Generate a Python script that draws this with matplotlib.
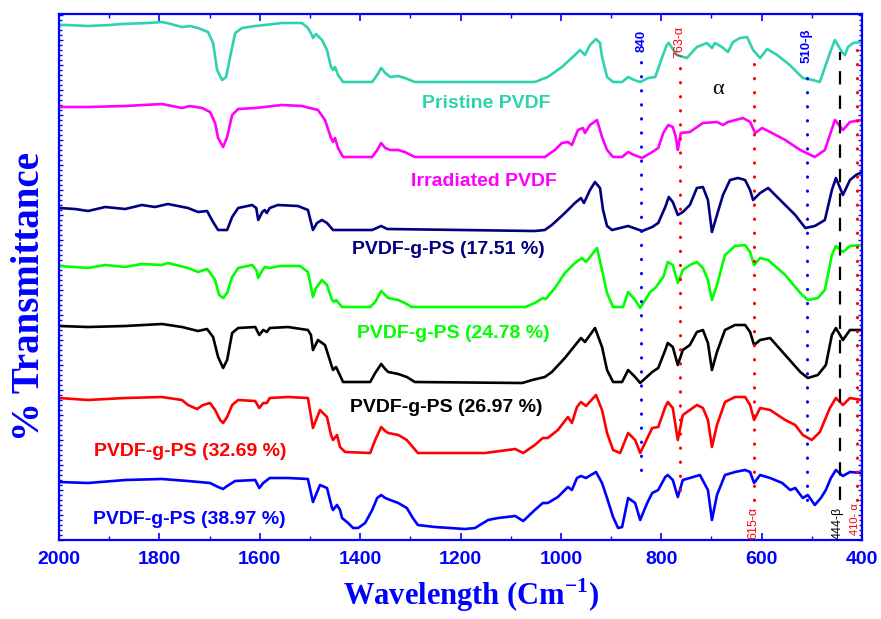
import matplotlib
matplotlib.use('Agg')
import matplotlib.pyplot as plt
from matplotlib.ticker import MultipleLocator

plt.rcParams['mathtext.fontset'] = 'custom'
plt.rcParams['mathtext.rm'] = 'Liberation Serif'
plt.rcParams['mathtext.bf'] = 'Liberation Serif:bold'

# FTIR spectra, stacked (transmittance in arbitrary offset units)
pristine_wn = [2000, 1984, 1942, 1900, 1874, 1822, 1795, 1785, 1755, 1739, 1723, 1703, 1693, 1685, 1675, 1667, 1659, 1649, 1635, 1609, 1590, 1556, 1516, 1504, 1496, 1494, 1488, 1476, 1466, 1458, 1454, 1450, 1444, 1434, 1376, 1366, 1358, 1350, 1340, 1324, 1311, 1291, 1052, 1026, 998, 972, 962, 952, 942, 930, 922, 918, 908, 896, 878, 866, 854, 842, 826, 812, 798, 789, 785, 769, 749, 729, 709, 699, 693, 679, 667, 657, 643, 629, 617, 603, 589, 569, 544, 518, 498, 484, 464, 454, 440, 434, 428, 418, 400]
pristine_t = [515, 515, 514, 515, 516, 517, 518, 517, 513, 514, 512, 508, 497, 470, 460, 463, 483, 507, 512, 514, 515, 517, 517, 512, 505, 502, 506, 500, 490, 473, 470, 473, 465, 458, 458, 465, 472, 467, 463, 464, 462, 458, 458, 463, 473, 485, 490, 485, 495, 501, 497, 483, 463, 458, 458, 463, 460, 458, 462, 463, 483, 495, 497, 485, 482, 493, 497, 492, 497, 493, 488, 498, 502, 503, 490, 482, 491, 485, 475, 462, 460, 458, 487, 500, 488, 485, 493, 497, 498]

irradiated_wn = [2000, 1942, 1868, 1795, 1755, 1739, 1715, 1699, 1689, 1683, 1673, 1665, 1655, 1643, 1609, 1556, 1516, 1484, 1470, 1458, 1454, 1450, 1444, 1434, 1376, 1366, 1358, 1350, 1340, 1324, 1311, 1291, 1032, 1012, 998, 986, 978, 966, 956, 952, 942, 928, 918, 908, 896, 878, 866, 854, 838, 818, 806, 796, 786, 777, 771, 767, 761, 743, 717, 689, 677, 667, 637, 623, 613, 599, 583, 553, 523, 494, 474, 454, 438, 424, 400]
irradiated_t = [433, 433, 434, 436, 432, 434, 432, 428, 417, 402, 393, 403, 425, 431, 432, 435, 434, 430, 420, 402, 398, 402, 392, 383, 383, 390, 397, 392, 390, 390, 388, 383, 383, 390, 397, 398, 395, 410, 412, 407, 415, 420, 403, 390, 383, 383, 388, 385, 382, 388, 392, 407, 415, 413, 403, 390, 407, 408, 417, 418, 415, 418, 422, 418, 407, 412, 408, 400, 390, 383, 390, 420, 410, 418, 420]

ps1751_wn = [2000, 1968, 1942, 1908, 1868, 1835, 1809, 1783, 1743, 1723, 1705, 1693, 1683, 1665, 1655, 1643, 1615, 1607, 1603, 1595, 1590, 1586, 1580, 1564, 1524, 1504, 1494, 1486, 1476, 1466, 1454, 1376, 1358, 1346, 1052, 1032, 1018, 992, 972, 960, 954, 942, 932, 922, 916, 908, 898, 866, 838, 818, 806, 792, 785, 777, 767, 757, 743, 729, 717, 707, 699, 689, 677, 663, 647, 633, 623, 617, 603, 587, 563, 533, 513, 494, 474, 460, 452, 438, 424, 412, 400]
ps1751_t = [332, 331, 329, 333, 331, 335, 333, 336, 332, 328, 329, 318, 310, 310, 323, 332, 335, 332, 320, 328, 330, 327, 332, 335, 334, 330, 310, 317, 320, 317, 310, 310, 314, 311, 309, 310, 315, 327, 337, 342, 337, 350, 358, 352, 330, 314, 310, 314, 309, 313, 317, 333, 343, 338, 325, 328, 335, 352, 353, 340, 308, 325, 345, 360, 362, 360, 350, 340, 347, 352, 340, 325, 312, 314, 320, 350, 362, 345, 360, 365, 368]

ps2478_wn = [2000, 1968, 1942, 1908, 1868, 1835, 1795, 1783, 1743, 1723, 1705, 1700, 1689, 1681, 1673, 1665, 1655, 1643, 1615, 1607, 1603, 1597, 1590, 1580, 1560, 1520, 1504, 1494, 1488, 1476, 1466, 1456, 1452, 1448, 1436, 1380, 1370, 1358, 1350, 1344, 1324, 1311, 1297, 1071, 1052, 1036, 1030, 1012, 992, 972, 958, 950, 928, 918, 908, 896, 876, 866, 852, 842, 822, 812, 796, 787, 777, 767, 757, 743, 729, 717, 707, 699, 689, 673, 653, 633, 623, 615, 603, 587, 553, 523, 508, 488, 474, 460, 452, 438, 424, 400]
ps2478_t = [274, 273, 272, 275, 273, 276, 275, 277, 272, 268, 271, 268, 260, 245, 242, 247, 263, 272, 275, 270, 262, 268, 273, 272, 274, 274, 268, 243, 252, 260, 255, 240, 238, 240, 233, 233, 238, 249, 245, 242, 240, 237, 233, 233, 237, 242, 241, 252, 267, 277, 282, 278, 292, 270, 247, 233, 233, 248, 240, 232, 248, 252, 263, 278, 275, 257, 270, 275, 278, 272, 260, 240, 255, 285, 294, 295, 288, 275, 282, 280, 265, 247, 240, 242, 250, 285, 294, 288, 294, 295]

ps2697_wn = [2000, 1942, 1868, 1795, 1755, 1723, 1705, 1693, 1683, 1673, 1665, 1655, 1643, 1609, 1601, 1593, 1586, 1580, 1544, 1504, 1498, 1494, 1484, 1470, 1456, 1454, 1448, 1434, 1380, 1370, 1358, 1350, 1344, 1324, 1307, 1291, 1077, 1057, 1032, 1018, 992, 968, 960, 952, 932, 918, 908, 896, 878, 866, 852, 842, 818, 806, 792, 787, 777, 767, 757, 743, 729, 717, 707, 699, 689, 673, 653, 633, 623, 615, 603, 583, 553, 523, 508, 488, 472, 460, 452, 438, 424, 400]
ps2697_t = [214, 213, 214, 216, 213, 209, 211, 203, 183, 172, 180, 207, 212, 213, 205, 210, 208, 212, 213, 210, 205, 190, 200, 195, 173, 170, 173, 158, 158, 167, 176, 171, 168, 166, 163, 158, 157, 160, 163, 168, 182, 197, 202, 198, 212, 193, 170, 158, 158, 170, 163, 157, 168, 172, 190, 197, 193, 175, 190, 195, 208, 210, 197, 170, 188, 210, 215, 215, 208, 195, 200, 202, 185, 168, 162, 165, 175, 205, 212, 200, 210, 210]

ps3269_wn = [2000, 1942, 1868, 1795, 1755, 1743, 1725, 1713, 1699, 1689, 1679, 1673, 1665, 1655, 1643, 1609, 1601, 1593, 1586, 1580, 1544, 1504, 1494, 1480, 1466, 1458, 1454, 1446, 1440, 1430, 1380, 1370, 1358, 1350, 1344, 1324, 1307, 1285, 1151, 1091, 1075, 1052, 1036, 1026, 1006, 986, 978, 968, 960, 950, 930, 918, 908, 896, 882, 866, 852, 842, 818, 806, 792, 787, 777, 767, 757, 743, 729, 717, 707, 699, 689, 673, 653, 633, 623, 615, 603, 583, 553, 533, 518, 500, 484, 464, 452, 438, 424, 400]
ps3269_t = [142, 140, 142, 143, 140, 135, 131, 135, 137, 130, 120, 117, 123, 135, 140, 139, 132, 137, 137, 142, 143, 142, 112, 130, 123, 105, 100, 105, 93, 88, 87, 100, 113, 109, 107, 105, 100, 87, 87, 91, 87, 95, 102, 102, 110, 123, 117, 133, 138, 134, 145, 130, 107, 90, 87, 107, 100, 87, 112, 113, 133, 138, 132, 100, 125, 130, 135, 132, 120, 93, 115, 138, 143, 143, 135, 120, 132, 130, 120, 115, 105, 100, 108, 132, 142, 135, 142, 140]

ps3897_wn = [2000, 1942, 1868, 1795, 1743, 1699, 1683, 1673, 1665, 1649, 1609, 1601, 1593, 1580, 1544, 1504, 1494, 1480, 1466, 1456, 1454, 1446, 1440, 1436, 1424, 1414, 1404, 1390, 1376, 1366, 1358, 1350, 1340, 1324, 1307, 1295, 1285, 1251, 1191, 1171, 1145, 1125, 1091, 1075, 1052, 1036, 1026, 1006, 986, 978, 968, 960, 950, 930, 918, 908, 896, 886, 878, 866, 852, 842, 828, 818, 806, 792, 787, 777, 767, 757, 743, 723, 707, 699, 689, 673, 653, 633, 623, 615, 603, 583, 559, 543, 533, 518, 508, 494, 482, 472, 462, 452, 438, 424, 400]
ps3897_t = [58, 57, 60, 61, 59, 57, 53, 51, 54, 59, 60, 52, 57, 62, 62, 61, 38, 55, 52, 32, 30, 35, 30, 22, 17, 12, 12, 17, 30, 42, 45, 42, 40, 37, 32, 22, 15, 13, 11, 12, 20, 22, 24, 19, 30, 37, 37, 43, 53, 50, 62, 64, 62, 68, 57, 42, 23, 12, 13, 42, 37, 20, 37, 47, 50, 63, 65, 60, 43, 60, 62, 65, 50, 20, 45, 65, 68, 70, 68, 57, 65, 62, 57, 50, 52, 42, 45, 35, 42, 50, 62, 70, 64, 68, 67]

spectra = [
    (pristine_wn, pristine_t, '#2ED3AE', 'Pristine PVDF', 1149, 437),
    (irradiated_wn, irradiated_t, '#FF00FF', 'Irradiated PVDF', 1153, 358),
    (ps1751_wn, ps1751_t, '#000080', 'PVDF-g-PS (17.51 %)', 1225, 290),
    (ps2478_wn, ps2478_t, '#00FF00', 'PVDF-g-PS (24.78 %)', 1215, 206),
    (ps2697_wn, ps2697_t, '#000000', 'PVDF-g-PS (26.97 %)', 1229, 133),
    (ps3269_wn, ps3269_t, '#FF0000', 'PVDF-g-PS (32.69 %)', 1739, 88),
    (ps3897_wn, ps3897_t, '#0000FF', 'PVDF-g-PS (38.97 %)', 1741, 21),
]

# marker lines
peak_pos = [840, 763, 615, 510, 444, 410]
peak_lbl = ['840', '763-\u03b1', '615-\u03b1', '510-\u03b2', '444-\u03b2', '410- \u03b1']
peak_col = ['#0000FF', '#FF0000', '#FF0000', '#0000FF', '#000000', '#FF0000']
peak_top = [480, 482, 478, 472, 488, 500]
peak_bot = [70, 50, 40, 40, 40, 40]

fig = plt.figure(figsize=(8.81, 6.19), dpi=100)
ax = fig.add_axes([59/881, 79/619, 803/881, 526/619])

for wn, t, c, name, lx, ly in spectra:
    ax.plot(wn, t, color=c, lw=1.9, solid_joinstyle='round')
    ax.text(lx, ly, name, color=c, fontsize=14, fontweight='bold',
            family='Liberation Sans', ha='center', va='center')

for i, p in enumerate(peak_pos):
    if p == 444:
        ax.plot([p, p], [peak_bot[i], peak_top[i]], color=peak_col[i], lw=1.6, ls=(0, (6, 5)))
    else:
        ax.plot([p, p], [peak_bot[i], peak_top[i]], color=peak_col[i], lw=2.2, ls=(0, (0.1, 4.5)),
                dash_capstyle='round')

# peak labels
ax.text(840, 488, peak_lbl[0], rotation=90, color='#0000FF', fontsize=9.5, fontweight='bold',
        family='Liberation Sans', ha='center', va='bottom')
ax.text(763, 482, peak_lbl[1], rotation=90, color='#FF0000', fontsize=9,
        family='Liberation Sans', ha='center', va='bottom')
ax.text(510, 477, peak_lbl[3], rotation=90, color='#0000FF', fontsize=9.5, fontweight='bold',
        family='Liberation Sans', ha='center', va='bottom')
ax.text(617, 1, peak_lbl[2], rotation=90, color='#FF0000', fontsize=9,
        family='Liberation Sans', ha='center', va='bottom')
ax.text(448, 1, peak_lbl[4], rotation=90, color='#000000', fontsize=9,
        family='Liberation Sans', ha='center', va='bottom')
ax.text(414, 5, peak_lbl[5], rotation=90, color='#FF0000', fontsize=8,
        family='Liberation Sans', ha='center', va='bottom')
ax.text(687, 450, '\u03b1', color='black', fontsize=16, family='Liberation Serif',
        ha='center', va='center')

ax.set_xlim(2000, 400)
ax.set_ylim(0, 526)
ax.xaxis.set_major_locator(MultipleLocator(200))
ax.xaxis.set_minor_locator(MultipleLocator(100))
ax.yaxis.set_major_locator(MultipleLocator(25))
ax.yaxis.set_minor_locator(MultipleLocator(5))
ax.set_yticklabels([])
ax.tick_params(axis='both', which='both', direction='in', colors='#0000FF',
               top=True, right=True)
ax.tick_params(axis='x', which='major', length=5, width=1.2, labelsize=14, pad=8)
ax.tick_params(axis='x', which='minor', length=3, width=1)
ax.tick_params(axis='y', which='major', length=3, width=1)
ax.tick_params(axis='y', which='minor', length=2, width=1)
for lab in ax.get_xticklabels():
    lab.set_fontweight('bold')
    lab.set_family('Liberation Sans')
for s in ax.spines.values():
    s.set_color('#0000FF')
    s.set_linewidth(1.6)

ax.set_xlabel('Wavelength (Cm$^{\\mathbf{-1}}$)', fontsize=22, fontweight='bold',
              family='Liberation Serif', color='#0000FF')
ax.set_ylabel('% Transmittance', fontsize=28, fontweight='bold',
              family='Liberation Serif', color='#0000FF')
ax.xaxis.set_label_coords(0.513, -0.07)
ax.yaxis.set_label_coords(-0.014, 0.462)

plt.savefig('out.png', dpi=100)
